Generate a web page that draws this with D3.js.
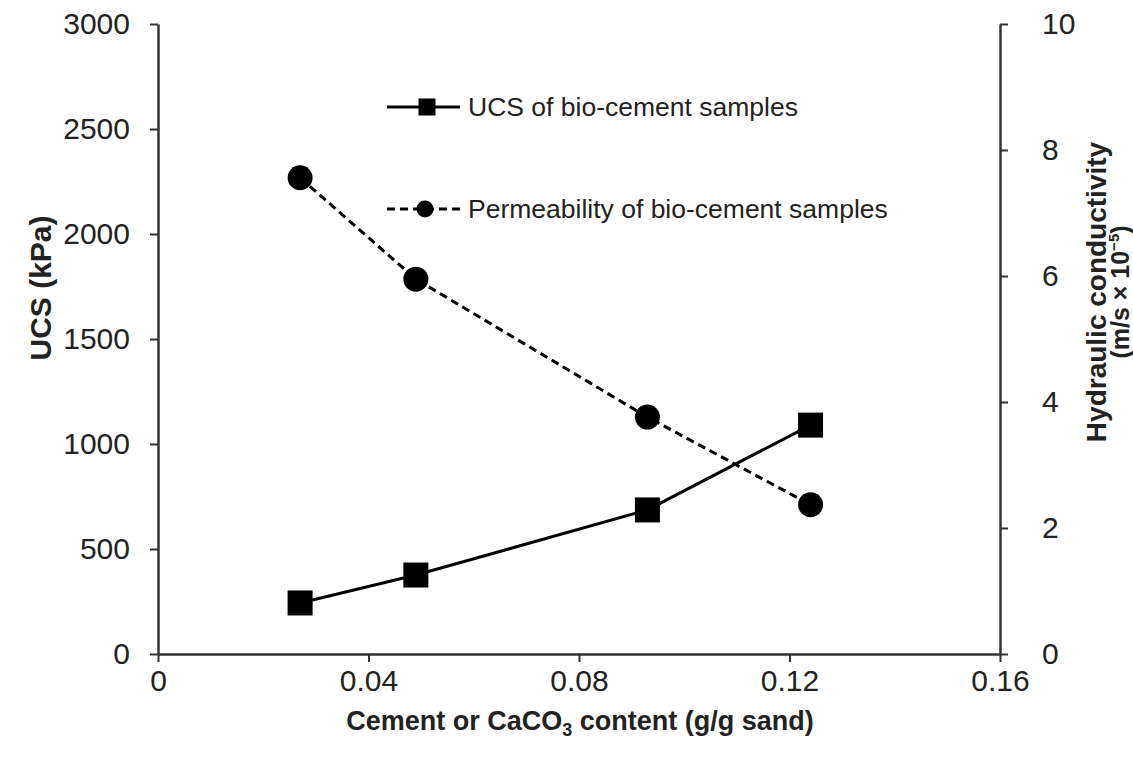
<!DOCTYPE html>
<html>
<head>
<meta charset="utf-8">
<script src="https://cdn.jsdelivr.net/npm/d3@7"></script>
<style>
  html, body { margin: 0; padding: 0; background: #fff; }
  svg { display: block; }
  text { font-family: "Liberation Sans", Arial, sans-serif; fill: #222; }
</style>
</head>
<body>
<svg id="chart" width="1133" height="763"></svg>
<script>
// ---- data ----
const content = [0.027, 0.049, 0.093, 0.124];          // g/g sand
const ucsValues = [243, 376, 686, 1090];                // kPa
const permValues = [7.56, 5.95, 3.76, 2.37];            // m/s x 10^-5
const xTicks = [0, 0.04, 0.08, 0.12, 0.16];
const yLeftTicks = [0, 500, 1000, 1500, 2000, 2500, 3000];
const yRightTicks = [0, 2, 4, 6, 8, 10];
const seriesNames = ["UCS of bio-cement samples", "Permeability of bio-cement samples"];

const svg = d3.select("#chart");
const x = d3.scaleLinear().domain([0, 0.16]).range([158, 1000]);
const yL = d3.scaleLinear().domain([0, 3000]).range([654, 24]);
const yR = d3.scaleLinear().domain([0, 10]).range([654, 24]);

const axisColor = "#333";

function styleAxis(g, fs) {
  g.selectAll(".domain").attr("stroke", axisColor).attr("stroke-width", 2.5);
  g.selectAll(".tick line").attr("stroke", axisColor).attr("stroke-width", 2);
  g.selectAll(".tick text").attr("font-size", fs).attr("fill", "#222")
    .style("font-family", "'Liberation Sans', Arial, sans-serif");
}

// x axis
const gx = svg.append("g").attr("transform", "translate(0,654)")
  .call(d3.axisBottom(x).tickValues(xTicks).tickSize(8).tickSizeOuter(0).tickPadding(8)
    .tickFormat(d => d === 0 ? "0" : d3.format(".2f")(d)));
styleAxis(gx, 30);

// left axis
const gl = svg.append("g").attr("transform", "translate(158,0)")
  .call(d3.axisLeft(yL).tickValues(yLeftTicks).tickSize(8).tickSizeOuter(0).tickPadding(20)
    .tickFormat(d3.format("d")));
styleAxis(gl, 30);

// right axis
const gr = svg.append("g").attr("transform", "translate(1000,0)")
  .call(d3.axisRight(yR).tickValues(yRightTicks).tickSize(8).tickSizeOuter(0).tickPadding(34)
    .tickFormat(d3.format("d")));
styleAxis(gr, 30);

// axis titles
svg.append("text")
  .attr("transform", "translate(51,288) rotate(-90)")
  .attr("text-anchor", "middle").attr("font-size", 30).attr("font-weight", "bold")
  .text("UCS (kPa)");

const xt = svg.append("text")
  .attr("x", 580).attr("y", 730)
  .attr("text-anchor", "middle").attr("font-size", 27).attr("font-weight", "bold");
xt.append("tspan").text("Cement or CaCO");
xt.append("tspan").attr("font-size", 18).attr("dy", 6).text("3");
xt.append("tspan").attr("dy", -6).text(" content (g/g sand)");

const rt = svg.append("text")
  .attr("transform", "translate(1106,292) rotate(-90)")
  .attr("text-anchor", "middle").attr("font-size", 28).attr("font-weight", "bold");
rt.append("tspan").text("Hydraulic conductivity");
const rt2 = svg.append("text")
  .attr("transform", "translate(1129,292) rotate(-90)")
  .attr("text-anchor", "middle").attr("font-size", 25).attr("font-weight", "bold");
rt2.append("tspan").text("(m/s × 10");
rt2.append("tspan").attr("font-size", 15).attr("dy", -10).text("−5");
rt2.append("tspan").attr("dy", 10).text(")");

// data
const ucsData = content.map((c, i) => ({ x: c, y: ucsValues[i] }));
const permData = content.map((c, i) => ({ x: c, y: permValues[i] }));

svg.append("path").datum(ucsData)
  .attr("fill", "none").attr("stroke", "#000").attr("stroke-width", 3)
  .attr("d", d3.line().x(d => x(d.x)).y(d => yL(d.y)));

svg.append("path").datum(permData)
  .attr("fill", "none").attr("stroke", "#000").attr("stroke-width", 3)
  .attr("stroke-dasharray", "8,5")
  .attr("d", d3.line().x(d => x(d.x)).y(d => yR(d.y)));

const sq = 25;
svg.append("g").selectAll("rect").data(ucsData).join("rect")
  .attr("x", d => x(d.x) - sq / 2).attr("y", d => yL(d.y) - sq / 2)
  .attr("width", sq).attr("height", sq).attr("fill", "#000");

svg.append("g").selectAll("circle").data(permData).join("circle")
  .attr("cx", d => x(d.x)).attr("cy", d => yR(d.y)).attr("r", 12.5).attr("fill", "#000");

// legend
const lg = svg.append("g");
const legY = [107, 209];
lg.append("line").attr("x1", 387).attr("x2", 460).attr("y1", legY[0]).attr("y2", legY[0])
  .attr("stroke", "#000").attr("stroke-width", 3);
lg.append("rect").attr("x", 427 - 8.5).attr("y", legY[0] - 8.5).attr("width", 17).attr("height", 17).attr("fill", "#000");
lg.append("text").attr("x", 468).attr("y", legY[0] + 9).attr("font-size", 26.5).attr("fill", "#333").text(seriesNames[0]);

lg.append("line").attr("x1", 387).attr("x2", 460).attr("y1", legY[1]).attr("y2", legY[1])
  .attr("stroke", "#000").attr("stroke-width", 3).attr("stroke-dasharray", "8,5");
lg.append("circle").attr("cx", 425).attr("cy", legY[1]).attr("r", 8.5).attr("fill", "#000");
lg.append("text").attr("x", 468).attr("y", legY[1] + 9).attr("font-size", 26.5).attr("fill", "#333").text(seriesNames[1]);
</script>
</body>
</html>
